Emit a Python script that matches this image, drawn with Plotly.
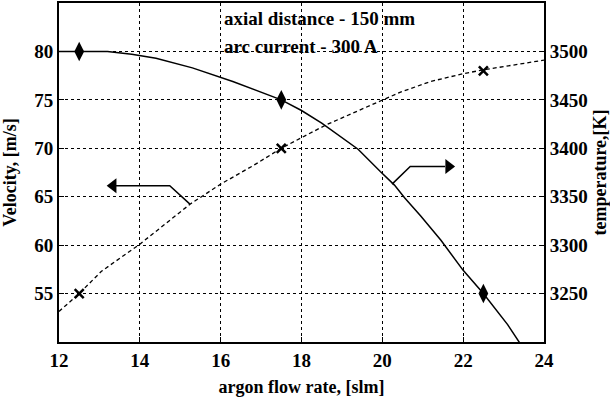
import plotly.graph_objects as go

# Argon flow rate sweep (slm)
flow_vel = [12.0, 12.5, 13.05, 14.0, 15.25, 16.0, 16.8, 17.5, 18.6, 20.0,
            20.45, 21.2, 22.0, 22.5, 23.2, 24.0]
velocity = [53.15, 55.0, 57.3, 60.1, 64.25, 66.3, 68.2, 70.0, 72.4, 75.0,
            75.8, 76.9, 77.7, 78.1, 78.6, 79.1]

flow_temp = [12.0, 12.5, 13.2, 13.8, 14.4, 15.3, 16.3, 17.5, 18.0, 18.5,
             19.0, 19.4, 19.95, 20.3, 20.55, 20.95, 21.45, 22.0, 22.5,
             22.85, 23.1, 23.4]
temperature = [3500, 3500, 3500, 3497, 3493, 3483, 3469, 3450, 3439, 3426,
               3411, 3399, 3376, 3362, 3349, 3330, 3305, 3274, 3250,
               3231, 3218, 3199]

# measured points
flow_pts = [12.5, 17.5, 22.5]
velocity_pts = [55, 70, 78]
temperature_pts = [3500, 3450, 3250]

x_ticks = [12, 14, 16, 18, 20, 22, 24]
vel_ticks = [55, 60, 65, 70, 75, 80]
temp_ticks = [3250, 3300, 3350, 3400, 3450, 3500]

# leader arrows (flow, velocity): curve point -> elbow -> arrow end
left_arrow_x = [15.24, 14.74, 13.40]
left_arrow_y = [64.24, 66.14, 66.14]
right_arrow_x = [20.24, 20.69, 21.55]
right_arrow_y = [66.3, 68.12, 68.12]
head_x = [13.34, 21.64]
head_y = [66.14, 68.12]
head_symbols = ["triangle-left", "triangle-right"]

FONT = "Liberation Serif"
BLACK = "black"
tick_font = dict(family=FONT, size=19, color=BLACK, weight="bold")
title_font = dict(family=FONT, size=18, color=BLACK, weight="bold")


def bold_labels(values):
    return ["<b>%d</b>" % v for v in values]


fig = go.Figure()

fig.add_trace(go.Scatter(
    x=flow_vel, y=velocity, mode="lines",
    line=dict(color=BLACK, width=1.3, dash="4px,3px"),
    showlegend=False, hoverinfo="skip"))
fig.add_trace(go.Scatter(
    x=flow_pts, y=velocity_pts, mode="markers",
    marker=dict(symbol="x-thin-open", size=9, color=BLACK,
                line=dict(color=BLACK, width=2.5)),
    showlegend=False))

fig.add_trace(go.Scatter(
    x=flow_temp, y=temperature, mode="lines",
    line=dict(color=BLACK, width=1.5),
    showlegend=False, yaxis="y2", hoverinfo="skip"))
fig.add_trace(go.Scatter(
    x=flow_pts, y=temperature_pts, mode="markers",
    marker=dict(symbol="diamond-tall", size=14, color=BLACK),
    showlegend=False, yaxis="y2"))

# arrows pointing each curve to its own axis
fig.add_trace(go.Scatter(
    x=left_arrow_x, y=left_arrow_y, mode="lines",
    line=dict(color=BLACK, width=1.5),
    showlegend=False, hoverinfo="skip"))
fig.add_trace(go.Scatter(
    x=right_arrow_x, y=right_arrow_y, mode="lines",
    line=dict(color=BLACK, width=1.5),
    showlegend=False, hoverinfo="skip"))
fig.add_trace(go.Scatter(
    x=head_x, y=head_y, mode="markers",
    marker=dict(symbol=head_symbols, size=13, color=BLACK, opacity=1,
                line=dict(width=0)),
    showlegend=False, hoverinfo="skip"))

axis_common = dict(
    ticks="inside", ticklen=5, tickcolor=BLACK, tickfont=tick_font,
    showline=True, linecolor=BLACK, linewidth=2, zeroline=False,
    automargin=False,
)

fig.update_layout(
    template="none",
    width=610, height=397,
    margin=dict(l=59, r=66, t=3, b=55),
    paper_bgcolor="white", plot_bgcolor="white",
    font=dict(family=FONT, size=19, color=BLACK),
    showlegend=False,
    xaxis=dict(
        range=[12, 24], tickvals=x_ticks, ticktext=bold_labels(x_ticks),
        mirror=True,
        showgrid=True, gridcolor=BLACK, gridwidth=1, griddash="dot",
        title=dict(text="argon flow rate, [slm]", font=title_font),
        **axis_common),
    yaxis=dict(
        range=[50, 85], tickvals=vel_ticks, ticktext=bold_labels(vel_ticks),
        showgrid=True, gridcolor=BLACK, gridwidth=1, griddash="dot",
        title=dict(text="Velocity, [m/s]", font=title_font),
        **axis_common),
    yaxis2=dict(
        range=[3200, 3550], tickvals=temp_ticks,
        ticktext=bold_labels(temp_ticks), overlaying="y",
        side="right", showgrid=False,
        title=dict(text="temperature,[K]", font=title_font),
        **axis_common),
)

# condition labels
fig.add_annotation(xref="paper", yref="paper", x=0.336, y=0.954,
                   xanchor="left", yanchor="middle", showarrow=False,
                   text="axial distance - 150 mm",
                   font=dict(family=FONT, size=19, color=BLACK,
                             weight="bold"))
fig.add_annotation(xref="paper", yref="paper", x=0.336, y=0.871,
                   xanchor="left", yanchor="middle", showarrow=False,
                   text="arc current - 300 A",
                   font=dict(family=FONT, size=19, color=BLACK,
                             weight="bold"))

fig.write_html("out.html")
